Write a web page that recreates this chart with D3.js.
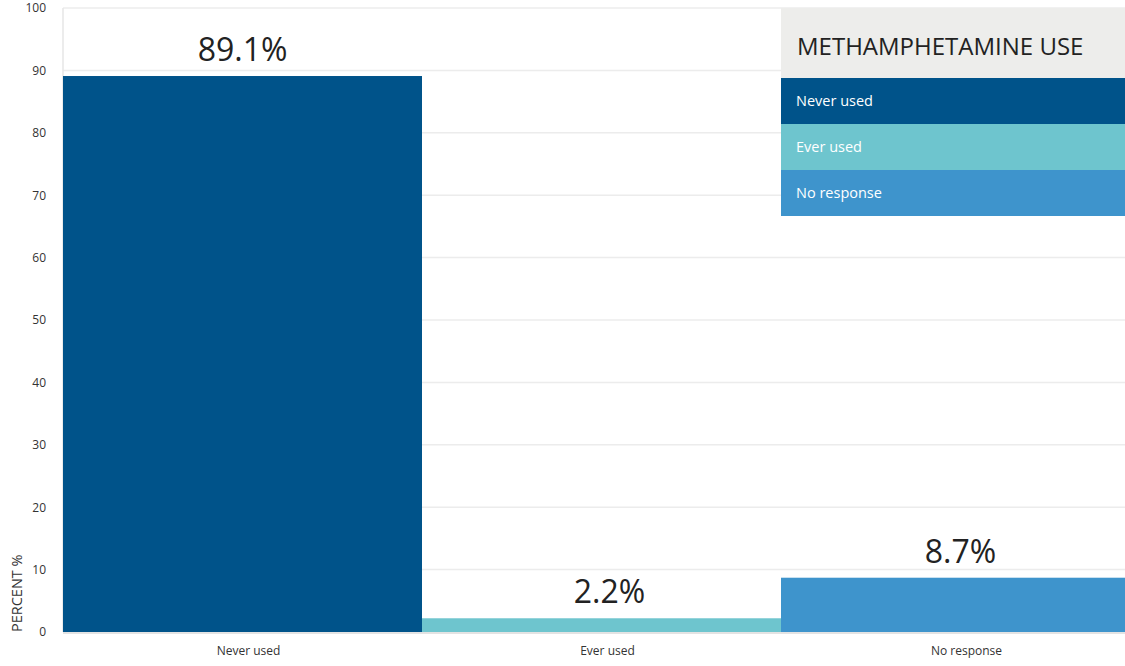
<!DOCTYPE html>
<html><head><meta charset="utf-8">
<script src="https://cdn.jsdelivr.net/npm/d3@7"></script>
<style>body{margin:0;background:#fff;}svg{display:block;font-family:"Open Sans",sans-serif;}</style>
</head><body>
<svg id="chart" width="1125" height="666"></svg>
<script>
const categories = ["Never used", "Ever used", "No response"];
const values = [89.1, 2.2, 8.7];
const colors = ["#00538a", "#6ec5ce", "#3e94cc"];
const yTicks = [0, 10, 20, 30, 40, 50, 60, 70, 80, 90, 100];
const legendTitle = "METHAMPHETAMINE USE";

const svg = d3.select("#chart");
const m = {left: 63, top: 8, bottom: 34};
const W = 1125, H = 666;
const x = d3.scaleBand().domain(categories).range([m.left, 1140]).padding(0);
const y = d3.scaleLinear().domain([0, 100]).range([H - m.bottom, m.top]);

// gridlines
svg.append("g").selectAll("line").data(yTicks).join("line")
  .attr("x1", m.left).attr("x2", W)
  .attr("y1", d => y(d)).attr("y2", d => y(d))
  .attr("stroke", "#ececec").attr("stroke-width", 1.5);
// left border
svg.append("line").attr("x1", m.left).attr("x2", m.left).attr("y1", y(100)).attr("y2", y(0))
  .attr("stroke", "#e6e6e6").attr("stroke-width", 1.5);

// bars
svg.append("g").selectAll("rect").data(values).join("rect")
  .attr("x", (d, i) => x(categories[i]))
  .attr("width", x.bandwidth())
  .attr("y", d => y(d))
  .attr("height", d => y(0) - y(d))
  .attr("fill", (d, i) => colors[i]);

// baseline
svg.append("line").attr("x1", m.left).attr("x2", W).attr("y1", y(0) + 1).attr("y2", y(0) + 1)
  .attr("stroke", "#e3e3e3").attr("stroke-width", 2);

// value labels
svg.append("g").selectAll("text").data(values).join("text")
  .attr("x", (d, i) => x(categories[i]) + x.bandwidth() / 2 + (i === 1 ? 8 : 0))
  .attr("y", d => y(d) - 15)
  .attr("text-anchor", "middle")
  .attr("font-size", 32).attr("fill", "#222")
  .text(d => d.toFixed(1) + "%");

// y axis
const yAxis = d3.axisLeft(y).tickValues(yTicks).tickSize(0).tickPadding(0);
const gy = svg.append("g").attr("transform", `translate(${m.left - 17},0)`).call(yAxis);
gy.select(".domain").remove();
gy.selectAll("text").attr("font-size", 12).attr("fill", "#333").attr("font-family", "Open Sans");

// y title
svg.append("text").attr("transform", `translate(22,${y(0)}) rotate(-90)`)
  .attr("text-anchor", "start").attr("font-size", 14.5).attr("fill", "#333")
  .text("PERCENT %");

// x axis
const xAxis = d3.axisBottom(x).tickSize(0).tickPadding(0);
const gx = svg.append("g").attr("transform", `translate(6,${y(0) + 14})`).call(xAxis);
gx.select(".domain").remove();
gx.selectAll("text").attr("font-size", 12).attr("fill", "#333").attr("font-family", "Open Sans").attr("dy", "0.71em");

// legend
const lx = x(categories[2]), lw = W - lx;
const lg = svg.append("g");
lg.append("rect").attr("x", lx).attr("y", m.top).attr("width", lw).attr("height", 70).attr("fill", "#ededeb");
lg.append("text").attr("x", lx + 16).attr("y", m.top + 47).attr("font-size", 24).attr("fill", "#222")
  .text(legendTitle);
const rowH = 46;
categories.forEach((c, i) => {
  lg.append("rect").attr("x", lx).attr("y", m.top + 70 + i * rowH).attr("width", lw).attr("height", rowH)
    .attr("fill", colors[i]);
  lg.append("text").attr("x", lx + 15).attr("y", m.top + 70 + i * rowH + rowH / 2 + 5)
    .attr("font-size", 14.5).attr("fill", "#fff").text(c);
});
</script>
</body></html>
